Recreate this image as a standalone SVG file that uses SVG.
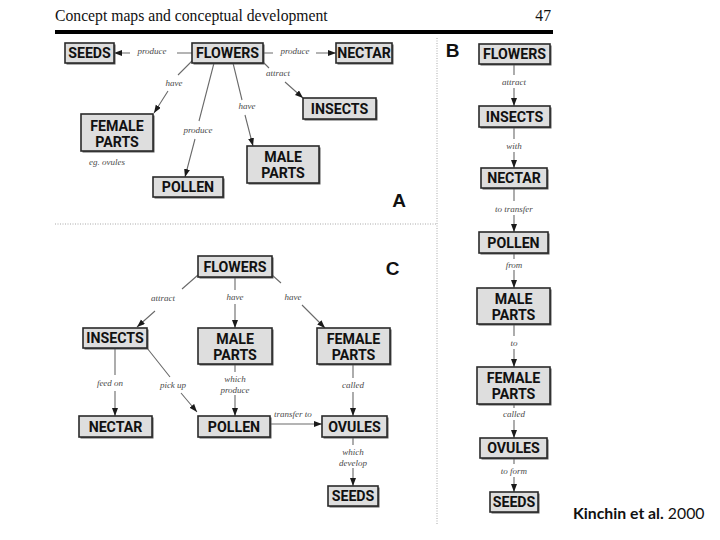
<svg xmlns="http://www.w3.org/2000/svg" width="720" height="540" viewBox="0 0 720 540">
<defs>
<marker id="ah" markerUnits="userSpaceOnUse" markerWidth="9" markerHeight="7" refX="8" refY="3" orient="auto">
<path d="M0,0 L8,3 L0,6 z" fill="#1a1a1a"/>
</marker>
<style>
.box{fill:#dedede;stroke:#2a2a2a;stroke-width:1.6}
.sh{fill:#5a5a5a}
.nt{font-family:Roboto,"Liberation Sans",Arial,sans-serif;font-weight:bold;font-size:14.2px;fill:#111;text-anchor:middle}
.lb{font-family:"Liberation Serif","Times New Roman",serif;font-style:italic;font-size:9px;fill:#4a4a4a;text-anchor:middle}
.cn{fill:none;stroke:#6a6a6a;stroke-width:1.1;marker-end:url(#ah)}
.sec{font-family:"Liberation Sans",Arial,sans-serif;font-weight:bold;font-size:19px;fill:#111;text-anchor:middle}
.sep{stroke:#a8a8a8;stroke-width:1;stroke-dasharray:1 1.5}
</style>
</defs>
<rect width="720" height="540" fill="#fff"/>
<g id="header">
<text x="55" y="21" font-family="Liberation Serif,Times New Roman,serif" font-size="15.7" fill="#111">Concept maps and conceptual development</text>
<text x="551" y="21" font-family="Liberation Serif,Times New Roman,serif" font-size="15.7" fill="#111" text-anchor="end">47</text>
<rect x="55" y="30" width="498" height="4" fill="#000"/>
<line class="sep" x1="437" y1="38" x2="437" y2="525"/>
<line class="sep" x1="55" y1="224" x2="437" y2="224"/>
<text class="sec" x="399" y="207">A</text>
<text class="sec" x="392.5" y="275">C</text>
<text class="sec" x="452.5" y="57">B</text>
<text x="573" y="519" font-family="Lato,Noto Sans,sans-serif" font-size="15.8" fill="#111"><tspan font-weight="bold">Kinchin et al.</tspan> 2000</text>
</g>
<g id="connectors">
<!-- A -->
<path class="cn" d="M192,53 L177,53 M130,53 L114,53"/>
<path class="cn" d="M263,53 L273,53 M316,53 L336,53"/>
<path class="cn" d="M192,61 L178,75 M168,91 L154,113"/>
<path class="cn" d="M214,63 L199,121 M195,139 L185,177"/>
<path class="cn" d="M233,63 L242,100 M245,115 L253,146"/>
<path class="cn" d="M263,62 L269,68 M285,82 L303,98"/>
<text class="lb" x="152" y="54">produce</text>
<text class="lb" x="295" y="54">produce</text>
<text class="lb" x="174" y="86">have</text>
<text class="lb" x="198" y="133">produce</text>
<text class="lb" x="247" y="109">have</text>
<text class="lb" x="278" y="76">attract</text>
<text class="lb" x="107" y="165">eg. ovules</text>
<!-- C -->
<path class="cn" d="M198,275 L182,289 M155,311 L137,327"/>
<path class="cn" d="M235,277 L235,290 M235,304 L235,328"/>
<path class="cn" d="M272,275 L281,283 M302,305 L325,328"/>
<path class="cn" d="M115,348 L115,375 M115,391 L115,416"/>
<path class="cn" d="M147,348 L170,377 M181,393 L197,412"/>
<path class="cn" d="M235,364 L235,372 M235,395 L235,416"/>
<path class="cn" d="M353,364 L353,378 M353,392 L353,416"/>
<path class="cn" d="M270,424 L322,424"/>
<path class="cn" d="M353,437 L353,445 M353,468 L353,486"/>
<text class="lb" x="163" y="301">attract</text>
<text class="lb" x="235" y="300">have</text>
<text class="lb" x="293" y="300">have</text>
<text class="lb" x="110" y="386">feed on</text>
<text class="lb" x="173" y="388">pick up</text>
<text class="lb" x="235" y="382">which</text>
<text class="lb" x="235" y="393">produce</text>
<text class="lb" x="353" y="388">called</text>
<text class="lb" x="293" y="417">transfer to</text>
<text class="lb" x="353" y="455">which</text>
<text class="lb" x="353" y="466">develop</text>
<!-- B -->
<path class="cn" d="M514,64 L514,75 M514,88 L514,106"/>
<path class="cn" d="M514,127 L514,139 M514,152 L514,168"/>
<path class="cn" d="M514,188 L514,201 M514,215 L514,232"/>
<path class="cn" d="M514,253 L514,259 M514,270 L514,288"/>
<path class="cn" d="M514,324 L514,336 M514,349 L514,367"/>
<path class="cn" d="M514,404 L514,408 M514,420 L514,438"/>
<path class="cn" d="M514,458 L514,464 M514,477 L514,492"/>
<text class="lb" x="514" y="85">attract</text>
<text class="lb" x="514" y="149">with</text>
<text class="lb" x="514" y="212">to transfer</text>
<text class="lb" x="514" y="268">from</text>
<text class="lb" x="514" y="346">to</text>
<text class="lb" x="514" y="417">called</text>
<text class="lb" x="514" y="474">to form</text>
</g>
<!-- A nodes -->
<g id="a-seeds"><rect class="sh" x="66.5" y="44.5" width="49" height="20"/><rect class="box" x="65" y="43" width="49" height="20"/><text class="nt" x="89.5" y="58.3">SEEDS</text></g>
<g id="a-flowers"><rect class="sh" x="193.5" y="44.5" width="71" height="20"/><rect class="box" x="192" y="43" width="71" height="20"/><text class="nt" x="227.5" y="58.3">FLOWERS</text></g>
<g id="a-nectar"><rect class="sh" x="337.5" y="44.5" width="56" height="20"/><rect class="box" x="336" y="43" width="56" height="20"/><text class="nt" x="364" y="58.3">NECTAR</text></g>
<g id="a-insects"><rect class="sh" x="304.5" y="99.5" width="73" height="21"/><rect class="box" x="303" y="98" width="73" height="21"/><text class="nt" x="339.5" y="113.8">INSECTS</text></g>
<g id="a-female"><rect class="sh" x="82.5" y="115.5" width="72" height="37"/><rect class="box" x="81" y="114" width="72" height="37"/><text class="nt" x="117" y="130.5">FEMALE</text><text class="nt" x="117" y="146.5">PARTS</text></g>
<g id="a-pollen"><rect class="sh" x="154.5" y="178.5" width="70" height="20"/><rect class="box" x="153" y="177" width="70" height="20"/><text class="nt" x="188" y="192.3">POLLEN</text></g>
<g id="a-male"><rect class="sh" x="248.5" y="147.5" width="72" height="37"/><rect class="box" x="247" y="146" width="72" height="37"/><text class="nt" x="283" y="162.3">MALE</text><text class="nt" x="283" y="178.3">PARTS</text></g>
<!-- C nodes -->
<g id="c-flowers"><rect class="sh" x="199.5" y="257.5" width="74" height="21"/><rect class="box" x="198" y="256" width="74" height="21"/><text class="nt" x="235" y="271.8">FLOWERS</text></g>
<g id="c-insects"><rect class="sh" x="84.5" y="329.5" width="64" height="20"/><rect class="box" x="83" y="328" width="64" height="20"/><text class="nt" x="115" y="343.3">INSECTS</text></g>
<g id="c-male"><rect class="sh" x="199.5" y="329.5" width="74" height="36"/><rect class="box" x="198" y="328" width="74" height="36"/><text class="nt" x="235" y="343.8">MALE</text><text class="nt" x="235" y="359.8">PARTS</text></g>
<g id="c-female"><rect class="sh" x="318.5" y="329.5" width="73" height="36"/><rect class="box" x="317" y="328" width="73" height="36"/><text class="nt" x="353.5" y="343.8">FEMALE</text><text class="nt" x="353.5" y="359.8">PARTS</text></g>
<g id="c-nectar"><rect class="sh" x="80.5" y="417.5" width="73" height="21"/><rect class="box" x="79" y="416" width="73" height="21"/><text class="nt" x="115.5" y="431.8">NECTAR</text></g>
<g id="c-pollen"><rect class="sh" x="199.5" y="417.5" width="72" height="21"/><rect class="box" x="198" y="416" width="72" height="21"/><text class="nt" x="234" y="431.8">POLLEN</text></g>
<g id="c-ovules"><rect class="sh" x="323.5" y="417.5" width="65" height="21"/><rect class="box" x="322" y="416" width="65" height="21"/><text class="nt" x="354.5" y="431.8">OVULES</text></g>
<g id="c-seeds"><rect class="sh" x="329.5" y="487.5" width="50" height="20"/><rect class="box" x="328" y="486" width="50" height="20"/><text class="nt" x="353" y="501.3">SEEDS</text></g>
<!-- B nodes -->
<g id="b-flowers"><rect class="sh" x="480.5" y="45.5" width="71" height="20"/><rect class="box" x="479" y="44" width="71" height="20"/><text class="nt" x="514.5" y="59.3">FLOWERS</text></g>
<g id="b-insects"><rect class="sh" x="480.5" y="107.5" width="71" height="21"/><rect class="box" x="479" y="106" width="71" height="21"/><text class="nt" x="514.5" y="121.8">INSECTS</text></g>
<g id="b-nectar"><rect class="sh" x="482.5" y="169.5" width="66" height="20"/><rect class="box" x="481" y="168" width="66" height="20"/><text class="nt" x="514" y="183.3">NECTAR</text></g>
<g id="b-pollen"><rect class="sh" x="480.5" y="233.5" width="69" height="21"/><rect class="box" x="479" y="232" width="69" height="21"/><text class="nt" x="513.5" y="247.8">POLLEN</text></g>
<g id="b-male"><rect class="sh" x="478.5" y="289.5" width="73" height="36"/><rect class="box" x="477" y="288" width="73" height="36"/><text class="nt" x="513.5" y="303.8">MALE</text><text class="nt" x="513.5" y="319.8">PARTS</text></g>
<g id="b-female"><rect class="sh" x="478.5" y="368.5" width="73" height="37"/><rect class="box" x="477" y="367" width="73" height="37"/><text class="nt" x="513.5" y="383.3">FEMALE</text><text class="nt" x="513.5" y="399.3">PARTS</text></g>
<g id="b-ovules"><rect class="sh" x="481.5" y="439.5" width="67" height="20"/><rect class="box" x="480" y="438" width="67" height="20"/><text class="nt" x="513.5" y="453.3">OVULES</text></g>
<g id="b-seeds"><rect class="sh" x="491.5" y="493.5" width="48" height="20"/><rect class="box" x="490" y="492" width="48" height="20"/><text class="nt" x="514" y="507.3">SEEDS</text></g>
</svg>
